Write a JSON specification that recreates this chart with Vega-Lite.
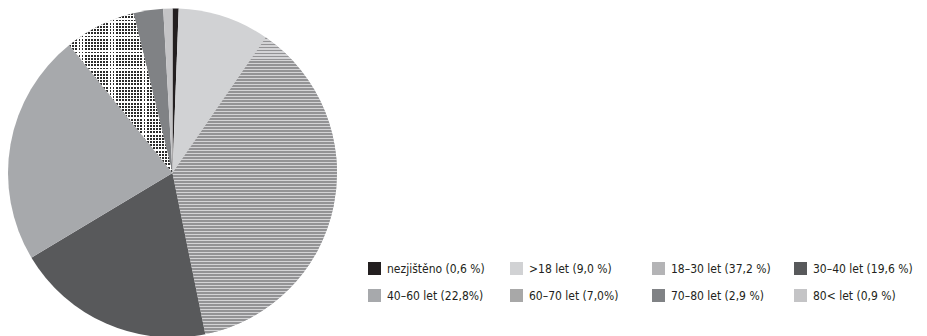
{
  "$schema": "https://vega.github.io/schema/vega-lite/v6.json",
  "width": 927,
  "height": 336,
  "padding": 0,
  "autosize": "none",
  "background": "white",
  "config": {"view": {"stroke": null}, "font": "DejaVu Sans Condensed, Roboto, sans-serif"},
  "data": {"values": [
    {"k": "nezjištěno (0,6 %)", "v": 0.6, "o": 1},
    {"k": ">18 let (9,0 %)", "v": 9.0, "o": 2},
    {"k": "18–30 let (37,2 %)", "v": 37.2, "o": 3},
    {"k": "30–40 let (19,6 %)", "v": 19.6, "o": 4},
    {"k": "40–60 let (22,8%)", "v": 22.8, "o": 5},
    {"k": "60–70 let (7,0%)", "v": 7.0, "o": 6},
    {"k": "70–80 let (2,9 %)", "v": 2.9, "o": 7},
    {"k": "80< let (0,9 %)", "v": 0.9, "o": 8}
  ]},
  "layer": [
    {
      "mark": {"type": "arc", "x": 172.5, "y": 173, "outerRadius": 164.5, "stroke": null},
      "encoding": {
        "theta": {"field": "v", "type": "quantitative", "stack": true, "scale": {"domain": [0, 100]}},
        "order": {"field": "o", "type": "quantitative"},
        "color": {
          "field": "k", "type": "nominal",
          "scale": {
            "domain": ["nezjištěno (0,6 %)", ">18 let (9,0 %)", "18–30 let (37,2 %)", "30–40 let (19,6 %)", "40–60 let (22,8%)", "60–70 let (7,0%)", "70–80 let (2,9 %)", "80< let (0,9 %)"],
            "range": ["#231f20", "#d1d2d4", "#b4b4b6", "#58595b", "#a7a9ac", "#a8a8a8", "#808285", "#c4c4c6"]
          },
          "legend": {
            "title": null,
            "orient": "none",
            "legendX": 368,
            "legendY": 262,
            "direction": "horizontal",
            "columns": 4,
            "gridAlign": "all",
            "columnPadding": 23,
            "rowPadding": 14,
            "symbolType": "square",
            "symbolSize": 169,
            "symbolStrokeWidth": 0,
            "symbolOffset": 0,
            "labelOffset": 6,
            "labelFont": "DejaVu Sans Condensed, Roboto, sans-serif",
            "labelFontSize": 12,
            "labelColor": "#231f20",
            "labelLimit": 300,
            "padding": 0
          }
        }
      }
    },
    {
      "transform": [
        {"stack": "v", "groupby": [], "sort": [{"field": "o", "order": "ascending"}], "as": ["s0", "s1"]},
        {"filter": "datum.o == 3"}
      ],
      "mark": {"type": "arc", "x": 172.5, "y": 173, "outerRadius": 164.5, "stroke": null,
        "fill": {"gradient": "linear", "x1": 0, "y1": 0, "x2": 0, "y2": 1, "stops": [
{"offset":0,"color":"#939395"},{"offset":0.0051,"color":"#939395"},{"offset":0.0051,"color":"#d4d4d6"},{"offset":0.0101,"color":"#d4d4d6"},
{"offset":0.0101,"color":"#939395"},{"offset":0.0152,"color":"#939395"},{"offset":0.0152,"color":"#d4d4d6"},{"offset":0.0202,"color":"#d4d4d6"},
{"offset":0.0202,"color":"#939395"},{"offset":0.0253,"color":"#939395"},{"offset":0.0253,"color":"#d4d4d6"},{"offset":0.0303,"color":"#d4d4d6"},
{"offset":0.0303,"color":"#939395"},{"offset":0.0354,"color":"#939395"},{"offset":0.0354,"color":"#d4d4d6"},{"offset":0.0404,"color":"#d4d4d6"},
{"offset":0.0404,"color":"#939395"},{"offset":0.0455,"color":"#939395"},{"offset":0.0455,"color":"#d4d4d6"},{"offset":0.0505,"color":"#d4d4d6"},
{"offset":0.0505,"color":"#939395"},{"offset":0.0556,"color":"#939395"},{"offset":0.0556,"color":"#d4d4d6"},{"offset":0.0606,"color":"#d4d4d6"},
{"offset":0.0606,"color":"#939395"},{"offset":0.0657,"color":"#939395"},{"offset":0.0657,"color":"#d4d4d6"},{"offset":0.0707,"color":"#d4d4d6"},
{"offset":0.0707,"color":"#939395"},{"offset":0.0758,"color":"#939395"},{"offset":0.0758,"color":"#d4d4d6"},{"offset":0.0808,"color":"#d4d4d6"},
{"offset":0.0808,"color":"#939395"},{"offset":0.0859,"color":"#939395"},{"offset":0.0859,"color":"#d4d4d6"},{"offset":0.0909,"color":"#d4d4d6"},
{"offset":0.0909,"color":"#939395"},{"offset":0.0960,"color":"#939395"},{"offset":0.0960,"color":"#d4d4d6"},{"offset":0.1010,"color":"#d4d4d6"},
{"offset":0.1010,"color":"#939395"},{"offset":0.1061,"color":"#939395"},{"offset":0.1061,"color":"#d4d4d6"},{"offset":0.1111,"color":"#d4d4d6"},
{"offset":0.1111,"color":"#939395"},{"offset":0.1162,"color":"#939395"},{"offset":0.1162,"color":"#d4d4d6"},{"offset":0.1212,"color":"#d4d4d6"},
{"offset":0.1212,"color":"#939395"},{"offset":0.1263,"color":"#939395"},{"offset":0.1263,"color":"#d4d4d6"},{"offset":0.1313,"color":"#d4d4d6"},
{"offset":0.1313,"color":"#939395"},{"offset":0.1364,"color":"#939395"},{"offset":0.1364,"color":"#d4d4d6"},{"offset":0.1414,"color":"#d4d4d6"},
{"offset":0.1414,"color":"#939395"},{"offset":0.1465,"color":"#939395"},{"offset":0.1465,"color":"#d4d4d6"},{"offset":0.1515,"color":"#d4d4d6"},
{"offset":0.1515,"color":"#939395"},{"offset":0.1566,"color":"#939395"},{"offset":0.1566,"color":"#d4d4d6"},{"offset":0.1616,"color":"#d4d4d6"},
{"offset":0.1616,"color":"#939395"},{"offset":0.1667,"color":"#939395"},{"offset":0.1667,"color":"#d4d4d6"},{"offset":0.1717,"color":"#d4d4d6"},
{"offset":0.1717,"color":"#939395"},{"offset":0.1768,"color":"#939395"},{"offset":0.1768,"color":"#d4d4d6"},{"offset":0.1818,"color":"#d4d4d6"},
{"offset":0.1818,"color":"#939395"},{"offset":0.1869,"color":"#939395"},{"offset":0.1869,"color":"#d4d4d6"},{"offset":0.1919,"color":"#d4d4d6"},
{"offset":0.1919,"color":"#939395"},{"offset":0.1970,"color":"#939395"},{"offset":0.1970,"color":"#d4d4d6"},{"offset":0.2020,"color":"#d4d4d6"},
{"offset":0.2020,"color":"#939395"},{"offset":0.2071,"color":"#939395"},{"offset":0.2071,"color":"#d4d4d6"},{"offset":0.2121,"color":"#d4d4d6"},
{"offset":0.2121,"color":"#939395"},{"offset":0.2172,"color":"#939395"},{"offset":0.2172,"color":"#d4d4d6"},{"offset":0.2222,"color":"#d4d4d6"},
{"offset":0.2222,"color":"#939395"},{"offset":0.2273,"color":"#939395"},{"offset":0.2273,"color":"#d4d4d6"},{"offset":0.2323,"color":"#d4d4d6"},
{"offset":0.2323,"color":"#939395"},{"offset":0.2374,"color":"#939395"},{"offset":0.2374,"color":"#d4d4d6"},{"offset":0.2424,"color":"#d4d4d6"},
{"offset":0.2424,"color":"#939395"},{"offset":0.2475,"color":"#939395"},{"offset":0.2475,"color":"#d4d4d6"},{"offset":0.2525,"color":"#d4d4d6"},
{"offset":0.2525,"color":"#939395"},{"offset":0.2576,"color":"#939395"},{"offset":0.2576,"color":"#d4d4d6"},{"offset":0.2626,"color":"#d4d4d6"},
{"offset":0.2626,"color":"#939395"},{"offset":0.2677,"color":"#939395"},{"offset":0.2677,"color":"#d4d4d6"},{"offset":0.2727,"color":"#d4d4d6"},
{"offset":0.2727,"color":"#939395"},{"offset":0.2778,"color":"#939395"},{"offset":0.2778,"color":"#d4d4d6"},{"offset":0.2828,"color":"#d4d4d6"},
{"offset":0.2828,"color":"#939395"},{"offset":0.2879,"color":"#939395"},{"offset":0.2879,"color":"#d4d4d6"},{"offset":0.2929,"color":"#d4d4d6"},
{"offset":0.2929,"color":"#939395"},{"offset":0.2980,"color":"#939395"},{"offset":0.2980,"color":"#d4d4d6"},{"offset":0.3030,"color":"#d4d4d6"},
{"offset":0.3030,"color":"#939395"},{"offset":0.3081,"color":"#939395"},{"offset":0.3081,"color":"#d4d4d6"},{"offset":0.3131,"color":"#d4d4d6"},
{"offset":0.3131,"color":"#939395"},{"offset":0.3182,"color":"#939395"},{"offset":0.3182,"color":"#d4d4d6"},{"offset":0.3232,"color":"#d4d4d6"},
{"offset":0.3232,"color":"#939395"},{"offset":0.3283,"color":"#939395"},{"offset":0.3283,"color":"#d4d4d6"},{"offset":0.3333,"color":"#d4d4d6"},
{"offset":0.3333,"color":"#939395"},{"offset":0.3384,"color":"#939395"},{"offset":0.3384,"color":"#d4d4d6"},{"offset":0.3434,"color":"#d4d4d6"},
{"offset":0.3434,"color":"#939395"},{"offset":0.3485,"color":"#939395"},{"offset":0.3485,"color":"#d4d4d6"},{"offset":0.3535,"color":"#d4d4d6"},
{"offset":0.3535,"color":"#939395"},{"offset":0.3586,"color":"#939395"},{"offset":0.3586,"color":"#d4d4d6"},{"offset":0.3636,"color":"#d4d4d6"},
{"offset":0.3636,"color":"#939395"},{"offset":0.3687,"color":"#939395"},{"offset":0.3687,"color":"#d4d4d6"},{"offset":0.3737,"color":"#d4d4d6"},
{"offset":0.3737,"color":"#939395"},{"offset":0.3788,"color":"#939395"},{"offset":0.3788,"color":"#d4d4d6"},{"offset":0.3838,"color":"#d4d4d6"},
{"offset":0.3838,"color":"#939395"},{"offset":0.3889,"color":"#939395"},{"offset":0.3889,"color":"#d4d4d6"},{"offset":0.3939,"color":"#d4d4d6"},
{"offset":0.3939,"color":"#939395"},{"offset":0.3990,"color":"#939395"},{"offset":0.3990,"color":"#d4d4d6"},{"offset":0.4040,"color":"#d4d4d6"},
{"offset":0.4040,"color":"#939395"},{"offset":0.4091,"color":"#939395"},{"offset":0.4091,"color":"#d4d4d6"},{"offset":0.4141,"color":"#d4d4d6"},
{"offset":0.4141,"color":"#939395"},{"offset":0.4192,"color":"#939395"},{"offset":0.4192,"color":"#d4d4d6"},{"offset":0.4242,"color":"#d4d4d6"},
{"offset":0.4242,"color":"#939395"},{"offset":0.4293,"color":"#939395"},{"offset":0.4293,"color":"#d4d4d6"},{"offset":0.4343,"color":"#d4d4d6"},
{"offset":0.4343,"color":"#939395"},{"offset":0.4394,"color":"#939395"},{"offset":0.4394,"color":"#d4d4d6"},{"offset":0.4444,"color":"#d4d4d6"},
{"offset":0.4444,"color":"#939395"},{"offset":0.4495,"color":"#939395"},{"offset":0.4495,"color":"#d4d4d6"},{"offset":0.4545,"color":"#d4d4d6"},
{"offset":0.4545,"color":"#939395"},{"offset":0.4596,"color":"#939395"},{"offset":0.4596,"color":"#d4d4d6"},{"offset":0.4646,"color":"#d4d4d6"},
{"offset":0.4646,"color":"#939395"},{"offset":0.4697,"color":"#939395"},{"offset":0.4697,"color":"#d4d4d6"},{"offset":0.4747,"color":"#d4d4d6"},
{"offset":0.4747,"color":"#939395"},{"offset":0.4798,"color":"#939395"},{"offset":0.4798,"color":"#d4d4d6"},{"offset":0.4848,"color":"#d4d4d6"},
{"offset":0.4848,"color":"#939395"},{"offset":0.4899,"color":"#939395"},{"offset":0.4899,"color":"#d4d4d6"},{"offset":0.4949,"color":"#d4d4d6"},
{"offset":0.4949,"color":"#939395"},{"offset":0.5000,"color":"#939395"},{"offset":0.5000,"color":"#d4d4d6"},{"offset":0.5050,"color":"#d4d4d6"},
{"offset":0.5050,"color":"#939395"},{"offset":0.5101,"color":"#939395"},{"offset":0.5101,"color":"#d4d4d6"},{"offset":0.5151,"color":"#d4d4d6"},
{"offset":0.5151,"color":"#939395"},{"offset":0.5202,"color":"#939395"},{"offset":0.5202,"color":"#d4d4d6"},{"offset":0.5252,"color":"#d4d4d6"},
{"offset":0.5252,"color":"#939395"},{"offset":0.5303,"color":"#939395"},{"offset":0.5303,"color":"#d4d4d6"},{"offset":0.5353,"color":"#d4d4d6"},
{"offset":0.5353,"color":"#939395"},{"offset":0.5404,"color":"#939395"},{"offset":0.5404,"color":"#d4d4d6"},{"offset":0.5454,"color":"#d4d4d6"},
{"offset":0.5454,"color":"#939395"},{"offset":0.5505,"color":"#939395"},{"offset":0.5505,"color":"#d4d4d6"},{"offset":0.5555,"color":"#d4d4d6"},
{"offset":0.5555,"color":"#939395"},{"offset":0.5606,"color":"#939395"},{"offset":0.5606,"color":"#d4d4d6"},{"offset":0.5656,"color":"#d4d4d6"},
{"offset":0.5656,"color":"#939395"},{"offset":0.5707,"color":"#939395"},{"offset":0.5707,"color":"#d4d4d6"},{"offset":0.5757,"color":"#d4d4d6"},
{"offset":0.5757,"color":"#939395"},{"offset":0.5808,"color":"#939395"},{"offset":0.5808,"color":"#d4d4d6"},{"offset":0.5858,"color":"#d4d4d6"},
{"offset":0.5858,"color":"#939395"},{"offset":0.5909,"color":"#939395"},{"offset":0.5909,"color":"#d4d4d6"},{"offset":0.5959,"color":"#d4d4d6"},
{"offset":0.5959,"color":"#939395"},{"offset":0.6010,"color":"#939395"},{"offset":0.6010,"color":"#d4d4d6"},{"offset":0.6060,"color":"#d4d4d6"},
{"offset":0.6060,"color":"#939395"},{"offset":0.6111,"color":"#939395"},{"offset":0.6111,"color":"#d4d4d6"},{"offset":0.6161,"color":"#d4d4d6"},
{"offset":0.6161,"color":"#939395"},{"offset":0.6212,"color":"#939395"},{"offset":0.6212,"color":"#d4d4d6"},{"offset":0.6262,"color":"#d4d4d6"},
{"offset":0.6262,"color":"#939395"},{"offset":0.6313,"color":"#939395"},{"offset":0.6313,"color":"#d4d4d6"},{"offset":0.6363,"color":"#d4d4d6"},
{"offset":0.6363,"color":"#939395"},{"offset":0.6414,"color":"#939395"},{"offset":0.6414,"color":"#d4d4d6"},{"offset":0.6464,"color":"#d4d4d6"},
{"offset":0.6464,"color":"#939395"},{"offset":0.6515,"color":"#939395"},{"offset":0.6515,"color":"#d4d4d6"},{"offset":0.6565,"color":"#d4d4d6"},
{"offset":0.6565,"color":"#939395"},{"offset":0.6616,"color":"#939395"},{"offset":0.6616,"color":"#d4d4d6"},{"offset":0.6666,"color":"#d4d4d6"},
{"offset":0.6666,"color":"#939395"},{"offset":0.6717,"color":"#939395"},{"offset":0.6717,"color":"#d4d4d6"},{"offset":0.6767,"color":"#d4d4d6"},
{"offset":0.6767,"color":"#939395"},{"offset":0.6818,"color":"#939395"},{"offset":0.6818,"color":"#d4d4d6"},{"offset":0.6868,"color":"#d4d4d6"},
{"offset":0.6868,"color":"#939395"},{"offset":0.6919,"color":"#939395"},{"offset":0.6919,"color":"#d4d4d6"},{"offset":0.6969,"color":"#d4d4d6"},
{"offset":0.6969,"color":"#939395"},{"offset":0.7020,"color":"#939395"},{"offset":0.7020,"color":"#d4d4d6"},{"offset":0.7070,"color":"#d4d4d6"},
{"offset":0.7070,"color":"#939395"},{"offset":0.7121,"color":"#939395"},{"offset":0.7121,"color":"#d4d4d6"},{"offset":0.7171,"color":"#d4d4d6"},
{"offset":0.7171,"color":"#939395"},{"offset":0.7222,"color":"#939395"},{"offset":0.7222,"color":"#d4d4d6"},{"offset":0.7272,"color":"#d4d4d6"},
{"offset":0.7272,"color":"#939395"},{"offset":0.7323,"color":"#939395"},{"offset":0.7323,"color":"#d4d4d6"},{"offset":0.7373,"color":"#d4d4d6"},
{"offset":0.7373,"color":"#939395"},{"offset":0.7424,"color":"#939395"},{"offset":0.7424,"color":"#d4d4d6"},{"offset":0.7474,"color":"#d4d4d6"},
{"offset":0.7474,"color":"#939395"},{"offset":0.7525,"color":"#939395"},{"offset":0.7525,"color":"#d4d4d6"},{"offset":0.7575,"color":"#d4d4d6"},
{"offset":0.7575,"color":"#939395"},{"offset":0.7626,"color":"#939395"},{"offset":0.7626,"color":"#d4d4d6"},{"offset":0.7676,"color":"#d4d4d6"},
{"offset":0.7676,"color":"#939395"},{"offset":0.7727,"color":"#939395"},{"offset":0.7727,"color":"#d4d4d6"},{"offset":0.7777,"color":"#d4d4d6"},
{"offset":0.7777,"color":"#939395"},{"offset":0.7828,"color":"#939395"},{"offset":0.7828,"color":"#d4d4d6"},{"offset":0.7878,"color":"#d4d4d6"},
{"offset":0.7878,"color":"#939395"},{"offset":0.7929,"color":"#939395"},{"offset":0.7929,"color":"#d4d4d6"},{"offset":0.7979,"color":"#d4d4d6"},
{"offset":0.7979,"color":"#939395"},{"offset":0.8030,"color":"#939395"},{"offset":0.8030,"color":"#d4d4d6"},{"offset":0.8080,"color":"#d4d4d6"},
{"offset":0.8080,"color":"#939395"},{"offset":0.8131,"color":"#939395"},{"offset":0.8131,"color":"#d4d4d6"},{"offset":0.8181,"color":"#d4d4d6"},
{"offset":0.8181,"color":"#939395"},{"offset":0.8232,"color":"#939395"},{"offset":0.8232,"color":"#d4d4d6"},{"offset":0.8282,"color":"#d4d4d6"},
{"offset":0.8282,"color":"#939395"},{"offset":0.8333,"color":"#939395"},{"offset":0.8333,"color":"#d4d4d6"},{"offset":0.8383,"color":"#d4d4d6"},
{"offset":0.8383,"color":"#939395"},{"offset":0.8434,"color":"#939395"},{"offset":0.8434,"color":"#d4d4d6"},{"offset":0.8484,"color":"#d4d4d6"},
{"offset":0.8484,"color":"#939395"},{"offset":0.8535,"color":"#939395"},{"offset":0.8535,"color":"#d4d4d6"},{"offset":0.8585,"color":"#d4d4d6"},
{"offset":0.8585,"color":"#939395"},{"offset":0.8636,"color":"#939395"},{"offset":0.8636,"color":"#d4d4d6"},{"offset":0.8686,"color":"#d4d4d6"},
{"offset":0.8686,"color":"#939395"},{"offset":0.8737,"color":"#939395"},{"offset":0.8737,"color":"#d4d4d6"},{"offset":0.8787,"color":"#d4d4d6"},
{"offset":0.8787,"color":"#939395"},{"offset":0.8838,"color":"#939395"},{"offset":0.8838,"color":"#d4d4d6"},{"offset":0.8888,"color":"#d4d4d6"},
{"offset":0.8888,"color":"#939395"},{"offset":0.8939,"color":"#939395"},{"offset":0.8939,"color":"#d4d4d6"},{"offset":0.8989,"color":"#d4d4d6"},
{"offset":0.8989,"color":"#939395"},{"offset":0.9040,"color":"#939395"},{"offset":0.9040,"color":"#d4d4d6"},{"offset":0.9090,"color":"#d4d4d6"},
{"offset":0.9090,"color":"#939395"},{"offset":0.9141,"color":"#939395"},{"offset":0.9141,"color":"#d4d4d6"},{"offset":0.9191,"color":"#d4d4d6"},
{"offset":0.9191,"color":"#939395"},{"offset":0.9242,"color":"#939395"},{"offset":0.9242,"color":"#d4d4d6"},{"offset":0.9292,"color":"#d4d4d6"},
{"offset":0.9292,"color":"#939395"},{"offset":0.9343,"color":"#939395"},{"offset":0.9343,"color":"#d4d4d6"},{"offset":0.9393,"color":"#d4d4d6"},
{"offset":0.9393,"color":"#939395"},{"offset":0.9444,"color":"#939395"},{"offset":0.9444,"color":"#d4d4d6"},{"offset":0.9494,"color":"#d4d4d6"},
{"offset":0.9494,"color":"#939395"},{"offset":0.9545,"color":"#939395"},{"offset":0.9545,"color":"#d4d4d6"},{"offset":0.9595,"color":"#d4d4d6"},
{"offset":0.9595,"color":"#939395"},{"offset":0.9646,"color":"#939395"},{"offset":0.9646,"color":"#d4d4d6"},{"offset":0.9696,"color":"#d4d4d6"},
{"offset":0.9696,"color":"#939395"},{"offset":0.9747,"color":"#939395"},{"offset":0.9747,"color":"#d4d4d6"},{"offset":0.9797,"color":"#d4d4d6"},
{"offset":0.9797,"color":"#939395"},{"offset":0.9848,"color":"#939395"},{"offset":0.9848,"color":"#d4d4d6"},{"offset":0.9898,"color":"#d4d4d6"},
{"offset":0.9898,"color":"#939395"},{"offset":0.9949,"color":"#939395"},{"offset":0.9949,"color":"#d4d4d6"},{"offset":1,"color":"#d4d4d6"}
        ]}
      },
      "encoding": {
        "theta": {"field": "s0", "type": "quantitative", "scale": {"domain": [0, 100]}},
        "theta2": {"field": "s1"}
      }
    },
    {
      "transform": [
        {"stack": "v", "groupby": [], "sort": [{"field": "o", "order": "ascending"}], "as": ["s0", "s1"]},
        {"filter": "datum.o == 6"}
      ],
      "mark": {"type": "arc", "x": 172.5, "y": 173, "outerRadius": 164.5, "stroke": null,
        "fill": {"gradient": "linear", "x1": 0, "y1": 0, "x2": 0, "y2": 1, "stops": [
{"offset":0,"color":"#2b2b2b"},{"offset":0.012,"color":"#2b2b2b"},{"offset":0.012,"color":"#ffffff"},{"offset":0.02,"color":"#ffffff"},
{"offset":0.02,"color":"#2b2b2b"},{"offset":0.032,"color":"#2b2b2b"},{"offset":0.032,"color":"#ffffff"},{"offset":0.04,"color":"#ffffff"},
{"offset":0.04,"color":"#2b2b2b"},{"offset":0.052,"color":"#2b2b2b"},{"offset":0.052,"color":"#ffffff"},{"offset":0.06,"color":"#ffffff"},
{"offset":0.06,"color":"#2b2b2b"},{"offset":0.072,"color":"#2b2b2b"},{"offset":0.072,"color":"#ffffff"},{"offset":0.08,"color":"#ffffff"},
{"offset":0.08,"color":"#2b2b2b"},{"offset":0.092,"color":"#2b2b2b"},{"offset":0.092,"color":"#ffffff"},{"offset":0.10,"color":"#ffffff"},
{"offset":0.10,"color":"#2b2b2b"},{"offset":0.112,"color":"#2b2b2b"},{"offset":0.112,"color":"#ffffff"},{"offset":0.12,"color":"#ffffff"},
{"offset":0.12,"color":"#2b2b2b"},{"offset":0.132,"color":"#2b2b2b"},{"offset":0.132,"color":"#ffffff"},{"offset":0.14,"color":"#ffffff"},
{"offset":0.14,"color":"#2b2b2b"},{"offset":0.152,"color":"#2b2b2b"},{"offset":0.152,"color":"#ffffff"},{"offset":0.16,"color":"#ffffff"},
{"offset":0.16,"color":"#2b2b2b"},{"offset":0.172,"color":"#2b2b2b"},{"offset":0.172,"color":"#ffffff"},{"offset":0.18,"color":"#ffffff"},
{"offset":0.18,"color":"#2b2b2b"},{"offset":0.192,"color":"#2b2b2b"},{"offset":0.192,"color":"#ffffff"},{"offset":0.20,"color":"#ffffff"},
{"offset":0.20,"color":"#2b2b2b"},{"offset":0.212,"color":"#2b2b2b"},{"offset":0.212,"color":"#ffffff"},{"offset":0.22,"color":"#ffffff"},
{"offset":0.22,"color":"#2b2b2b"},{"offset":0.232,"color":"#2b2b2b"},{"offset":0.232,"color":"#ffffff"},{"offset":0.24,"color":"#ffffff"},
{"offset":0.24,"color":"#2b2b2b"},{"offset":0.252,"color":"#2b2b2b"},{"offset":0.252,"color":"#ffffff"},{"offset":0.26,"color":"#ffffff"},
{"offset":0.26,"color":"#2b2b2b"},{"offset":0.272,"color":"#2b2b2b"},{"offset":0.272,"color":"#ffffff"},{"offset":0.28,"color":"#ffffff"},
{"offset":0.28,"color":"#2b2b2b"},{"offset":0.292,"color":"#2b2b2b"},{"offset":0.292,"color":"#ffffff"},{"offset":0.30,"color":"#ffffff"},
{"offset":0.30,"color":"#2b2b2b"},{"offset":0.312,"color":"#2b2b2b"},{"offset":0.312,"color":"#ffffff"},{"offset":0.32,"color":"#ffffff"},
{"offset":0.32,"color":"#2b2b2b"},{"offset":0.332,"color":"#2b2b2b"},{"offset":0.332,"color":"#ffffff"},{"offset":0.34,"color":"#ffffff"},
{"offset":0.34,"color":"#2b2b2b"},{"offset":0.352,"color":"#2b2b2b"},{"offset":0.352,"color":"#ffffff"},{"offset":0.36,"color":"#ffffff"},
{"offset":0.36,"color":"#2b2b2b"},{"offset":0.372,"color":"#2b2b2b"},{"offset":0.372,"color":"#ffffff"},{"offset":0.38,"color":"#ffffff"},
{"offset":0.38,"color":"#2b2b2b"},{"offset":0.392,"color":"#2b2b2b"},{"offset":0.392,"color":"#ffffff"},{"offset":0.40,"color":"#ffffff"},
{"offset":0.40,"color":"#2b2b2b"},{"offset":0.412,"color":"#2b2b2b"},{"offset":0.412,"color":"#ffffff"},{"offset":0.42,"color":"#ffffff"},
{"offset":0.42,"color":"#2b2b2b"},{"offset":0.432,"color":"#2b2b2b"},{"offset":0.432,"color":"#ffffff"},{"offset":0.44,"color":"#ffffff"},
{"offset":0.44,"color":"#2b2b2b"},{"offset":0.452,"color":"#2b2b2b"},{"offset":0.452,"color":"#ffffff"},{"offset":0.46,"color":"#ffffff"},
{"offset":0.46,"color":"#2b2b2b"},{"offset":0.472,"color":"#2b2b2b"},{"offset":0.472,"color":"#ffffff"},{"offset":0.48,"color":"#ffffff"},
{"offset":0.48,"color":"#2b2b2b"},{"offset":0.492,"color":"#2b2b2b"},{"offset":0.492,"color":"#ffffff"},{"offset":0.50,"color":"#ffffff"},
{"offset":0.50,"color":"#2b2b2b"},{"offset":0.512,"color":"#2b2b2b"},{"offset":0.512,"color":"#ffffff"},{"offset":0.52,"color":"#ffffff"},
{"offset":0.52,"color":"#2b2b2b"},{"offset":0.532,"color":"#2b2b2b"},{"offset":0.532,"color":"#ffffff"},{"offset":0.54,"color":"#ffffff"},
{"offset":0.54,"color":"#2b2b2b"},{"offset":0.552,"color":"#2b2b2b"},{"offset":0.552,"color":"#ffffff"},{"offset":0.56,"color":"#ffffff"},
{"offset":0.56,"color":"#2b2b2b"},{"offset":0.572,"color":"#2b2b2b"},{"offset":0.572,"color":"#ffffff"},{"offset":0.58,"color":"#ffffff"},
{"offset":0.58,"color":"#2b2b2b"},{"offset":0.592,"color":"#2b2b2b"},{"offset":0.592,"color":"#ffffff"},{"offset":0.60,"color":"#ffffff"},
{"offset":0.60,"color":"#2b2b2b"},{"offset":0.612,"color":"#2b2b2b"},{"offset":0.612,"color":"#ffffff"},{"offset":0.62,"color":"#ffffff"},
{"offset":0.62,"color":"#2b2b2b"},{"offset":0.632,"color":"#2b2b2b"},{"offset":0.632,"color":"#ffffff"},{"offset":0.64,"color":"#ffffff"},
{"offset":0.64,"color":"#2b2b2b"},{"offset":0.652,"color":"#2b2b2b"},{"offset":0.652,"color":"#ffffff"},{"offset":0.66,"color":"#ffffff"},
{"offset":0.66,"color":"#2b2b2b"},{"offset":0.672,"color":"#2b2b2b"},{"offset":0.672,"color":"#ffffff"},{"offset":0.68,"color":"#ffffff"},
{"offset":0.68,"color":"#2b2b2b"},{"offset":0.692,"color":"#2b2b2b"},{"offset":0.692,"color":"#ffffff"},{"offset":0.70,"color":"#ffffff"},
{"offset":0.70,"color":"#2b2b2b"},{"offset":0.712,"color":"#2b2b2b"},{"offset":0.712,"color":"#ffffff"},{"offset":0.72,"color":"#ffffff"},
{"offset":0.72,"color":"#2b2b2b"},{"offset":0.732,"color":"#2b2b2b"},{"offset":0.732,"color":"#ffffff"},{"offset":0.74,"color":"#ffffff"},
{"offset":0.74,"color":"#2b2b2b"},{"offset":0.752,"color":"#2b2b2b"},{"offset":0.752,"color":"#ffffff"},{"offset":0.76,"color":"#ffffff"},
{"offset":0.76,"color":"#2b2b2b"},{"offset":0.772,"color":"#2b2b2b"},{"offset":0.772,"color":"#ffffff"},{"offset":0.78,"color":"#ffffff"},
{"offset":0.78,"color":"#2b2b2b"},{"offset":0.792,"color":"#2b2b2b"},{"offset":0.792,"color":"#ffffff"},{"offset":0.80,"color":"#ffffff"},
{"offset":0.80,"color":"#2b2b2b"},{"offset":0.812,"color":"#2b2b2b"},{"offset":0.812,"color":"#ffffff"},{"offset":0.82,"color":"#ffffff"},
{"offset":0.82,"color":"#2b2b2b"},{"offset":0.832,"color":"#2b2b2b"},{"offset":0.832,"color":"#ffffff"},{"offset":0.84,"color":"#ffffff"},
{"offset":0.84,"color":"#2b2b2b"},{"offset":0.852,"color":"#2b2b2b"},{"offset":0.852,"color":"#ffffff"},{"offset":0.86,"color":"#ffffff"},
{"offset":0.86,"color":"#2b2b2b"},{"offset":0.872,"color":"#2b2b2b"},{"offset":0.872,"color":"#ffffff"},{"offset":0.88,"color":"#ffffff"},
{"offset":0.88,"color":"#2b2b2b"},{"offset":0.892,"color":"#2b2b2b"},{"offset":0.892,"color":"#ffffff"},{"offset":0.90,"color":"#ffffff"},
{"offset":0.90,"color":"#2b2b2b"},{"offset":0.912,"color":"#2b2b2b"},{"offset":0.912,"color":"#ffffff"},{"offset":0.92,"color":"#ffffff"},
{"offset":0.92,"color":"#2b2b2b"},{"offset":0.932,"color":"#2b2b2b"},{"offset":0.932,"color":"#ffffff"},{"offset":0.94,"color":"#ffffff"},
{"offset":0.94,"color":"#2b2b2b"},{"offset":0.952,"color":"#2b2b2b"},{"offset":0.952,"color":"#ffffff"},{"offset":0.96,"color":"#ffffff"},
{"offset":0.96,"color":"#2b2b2b"},{"offset":0.972,"color":"#2b2b2b"},{"offset":0.972,"color":"#ffffff"},{"offset":0.98,"color":"#ffffff"},
{"offset":0.98,"color":"#2b2b2b"},{"offset":0.992,"color":"#2b2b2b"},{"offset":0.992,"color":"#ffffff"},{"offset":1,"color":"#ffffff"}
        ]}
      },
      "encoding": {
        "theta": {"field": "s0", "type": "quantitative", "scale": {"domain": [0, 100]}},
        "theta2": {"field": "s1"}
      }
    },
    {
      "transform": [
        {"stack": "v", "groupby": [], "sort": [{"field": "o", "order": "ascending"}], "as": ["s0", "s1"]},
        {"filter": "datum.o == 6"}
      ],
      "mark": {"type": "arc", "x": 172.5, "y": 173, "outerRadius": 164.5, "stroke": null,
        "fill": {"gradient": "linear", "x1": 0, "y1": 0, "x2": 1, "y2": 0, "stops": [
{"offset":0,"color":"rgba(255,255,255,0)"},{"offset":0.018,"color":"rgba(255,255,255,0)"},{"offset":0.018,"color":"#ffffff"},{"offset":0.03,"color":"#ffffff"},
{"offset":0.03,"color":"rgba(255,255,255,0)"},{"offset":0.048,"color":"rgba(255,255,255,0)"},{"offset":0.048,"color":"#ffffff"},{"offset":0.06,"color":"#ffffff"},
{"offset":0.06,"color":"rgba(255,255,255,0)"},{"offset":0.078,"color":"rgba(255,255,255,0)"},{"offset":0.078,"color":"#ffffff"},{"offset":0.09,"color":"#ffffff"},
{"offset":0.09,"color":"rgba(255,255,255,0)"},{"offset":0.108,"color":"rgba(255,255,255,0)"},{"offset":0.108,"color":"#ffffff"},{"offset":0.12,"color":"#ffffff"},
{"offset":0.12,"color":"rgba(255,255,255,0)"},{"offset":0.138,"color":"rgba(255,255,255,0)"},{"offset":0.138,"color":"#ffffff"},{"offset":0.15,"color":"#ffffff"},
{"offset":0.15,"color":"rgba(255,255,255,0)"},{"offset":0.168,"color":"rgba(255,255,255,0)"},{"offset":0.168,"color":"#ffffff"},{"offset":0.18,"color":"#ffffff"},
{"offset":0.18,"color":"rgba(255,255,255,0)"},{"offset":0.198,"color":"rgba(255,255,255,0)"},{"offset":0.198,"color":"#ffffff"},{"offset":0.21,"color":"#ffffff"},
{"offset":0.21,"color":"rgba(255,255,255,0)"},{"offset":0.228,"color":"rgba(255,255,255,0)"},{"offset":0.228,"color":"#ffffff"},{"offset":0.24,"color":"#ffffff"},
{"offset":0.24,"color":"rgba(255,255,255,0)"},{"offset":0.258,"color":"rgba(255,255,255,0)"},{"offset":0.258,"color":"#ffffff"},{"offset":0.27,"color":"#ffffff"},
{"offset":0.27,"color":"rgba(255,255,255,0)"},{"offset":0.288,"color":"rgba(255,255,255,0)"},{"offset":0.288,"color":"#ffffff"},{"offset":0.30,"color":"#ffffff"},
{"offset":0.30,"color":"rgba(255,255,255,0)"},{"offset":0.318,"color":"rgba(255,255,255,0)"},{"offset":0.318,"color":"#ffffff"},{"offset":0.33,"color":"#ffffff"},
{"offset":0.33,"color":"rgba(255,255,255,0)"},{"offset":0.348,"color":"rgba(255,255,255,0)"},{"offset":0.348,"color":"#ffffff"},{"offset":0.36,"color":"#ffffff"},
{"offset":0.36,"color":"rgba(255,255,255,0)"},{"offset":0.378,"color":"rgba(255,255,255,0)"},{"offset":0.378,"color":"#ffffff"},{"offset":0.39,"color":"#ffffff"},
{"offset":0.39,"color":"rgba(255,255,255,0)"},{"offset":0.408,"color":"rgba(255,255,255,0)"},{"offset":0.408,"color":"#ffffff"},{"offset":0.42,"color":"#ffffff"},
{"offset":0.42,"color":"rgba(255,255,255,0)"},{"offset":0.438,"color":"rgba(255,255,255,0)"},{"offset":0.438,"color":"#ffffff"},{"offset":0.45,"color":"#ffffff"},
{"offset":0.45,"color":"rgba(255,255,255,0)"},{"offset":0.468,"color":"rgba(255,255,255,0)"},{"offset":0.468,"color":"#ffffff"},{"offset":0.48,"color":"#ffffff"},
{"offset":0.48,"color":"rgba(255,255,255,0)"},{"offset":0.498,"color":"rgba(255,255,255,0)"},{"offset":0.498,"color":"#ffffff"},{"offset":0.51,"color":"#ffffff"},
{"offset":0.51,"color":"rgba(255,255,255,0)"},{"offset":0.528,"color":"rgba(255,255,255,0)"},{"offset":0.528,"color":"#ffffff"},{"offset":0.54,"color":"#ffffff"},
{"offset":0.54,"color":"rgba(255,255,255,0)"},{"offset":0.558,"color":"rgba(255,255,255,0)"},{"offset":0.558,"color":"#ffffff"},{"offset":0.57,"color":"#ffffff"},
{"offset":0.57,"color":"rgba(255,255,255,0)"},{"offset":0.588,"color":"rgba(255,255,255,0)"},{"offset":0.588,"color":"#ffffff"},{"offset":0.60,"color":"#ffffff"},
{"offset":0.60,"color":"rgba(255,255,255,0)"},{"offset":0.618,"color":"rgba(255,255,255,0)"},{"offset":0.618,"color":"#ffffff"},{"offset":0.63,"color":"#ffffff"},
{"offset":0.63,"color":"rgba(255,255,255,0)"},{"offset":0.648,"color":"rgba(255,255,255,0)"},{"offset":0.648,"color":"#ffffff"},{"offset":0.66,"color":"#ffffff"},
{"offset":0.66,"color":"rgba(255,255,255,0)"},{"offset":0.678,"color":"rgba(255,255,255,0)"},{"offset":0.678,"color":"#ffffff"},{"offset":0.69,"color":"#ffffff"},
{"offset":0.69,"color":"rgba(255,255,255,0)"},{"offset":0.708,"color":"rgba(255,255,255,0)"},{"offset":0.708,"color":"#ffffff"},{"offset":0.72,"color":"#ffffff"},
{"offset":0.72,"color":"rgba(255,255,255,0)"},{"offset":0.738,"color":"rgba(255,255,255,0)"},{"offset":0.738,"color":"#ffffff"},{"offset":0.75,"color":"#ffffff"},
{"offset":0.75,"color":"rgba(255,255,255,0)"},{"offset":0.768,"color":"rgba(255,255,255,0)"},{"offset":0.768,"color":"#ffffff"},{"offset":0.78,"color":"#ffffff"},
{"offset":0.78,"color":"rgba(255,255,255,0)"},{"offset":0.798,"color":"rgba(255,255,255,0)"},{"offset":0.798,"color":"#ffffff"},{"offset":0.81,"color":"#ffffff"},
{"offset":0.81,"color":"rgba(255,255,255,0)"},{"offset":0.828,"color":"rgba(255,255,255,0)"},{"offset":0.828,"color":"#ffffff"},{"offset":0.84,"color":"#ffffff"},
{"offset":0.84,"color":"rgba(255,255,255,0)"},{"offset":0.858,"color":"rgba(255,255,255,0)"},{"offset":0.858,"color":"#ffffff"},{"offset":0.87,"color":"#ffffff"},
{"offset":0.87,"color":"rgba(255,255,255,0)"},{"offset":0.888,"color":"rgba(255,255,255,0)"},{"offset":0.888,"color":"#ffffff"},{"offset":0.90,"color":"#ffffff"},
{"offset":0.90,"color":"rgba(255,255,255,0)"},{"offset":0.918,"color":"rgba(255,255,255,0)"},{"offset":0.918,"color":"#ffffff"},{"offset":0.93,"color":"#ffffff"},
{"offset":0.93,"color":"rgba(255,255,255,0)"},{"offset":0.948,"color":"rgba(255,255,255,0)"},{"offset":0.948,"color":"#ffffff"},{"offset":0.96,"color":"#ffffff"},
{"offset":0.96,"color":"rgba(255,255,255,0)"},{"offset":0.978,"color":"rgba(255,255,255,0)"},{"offset":0.978,"color":"#ffffff"},{"offset":0.99,"color":"#ffffff"},
{"offset":0.99,"color":"rgba(255,255,255,0)"},{"offset":1,"color":"rgba(255,255,255,0)"}
        ]}
      },
      "encoding": {
        "theta": {"field": "s0", "type": "quantitative", "scale": {"domain": [0, 100]}},
        "theta2": {"field": "s1"}
      }
    }
  ]
}
